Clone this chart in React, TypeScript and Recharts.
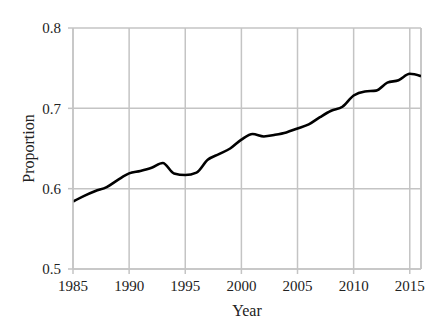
import React from 'react';
import { LineChart, Line, XAxis, YAxis, CartesianGrid, ReferenceLine } from 'recharts';

const years = [
  1985, 1986, 1987, 1988, 1989, 1990, 1991, 1992, 1993, 1994, 1995, 1996, 1997, 1998, 1999, 2000,
  2001, 2002, 2003, 2004, 2005, 2006, 2007, 2008, 2009, 2010, 2011, 2012, 2013, 2014, 2015, 2016,
];
const proportion = [
  0.584, 0.591, 0.597, 0.602, 0.611, 0.619, 0.622, 0.626, 0.632, 0.619, 0.617, 0.62, 0.636, 0.643, 0.65, 0.661,
  0.668, 0.665, 0.667, 0.67, 0.675, 0.68, 0.689, 0.697, 0.702, 0.716, 0.721, 0.722, 0.732, 0.735, 0.743, 0.74,
];
const xTicks = [1985, 1990, 1995, 2000, 2005, 2010, 2015];
const yTicks = [0.5, 0.6, 0.7, 0.8];

const data = years.map((year, i) => ({ year, value: proportion[i] }));

const gridColor = '#c4c4c4';
const font = '"Liberation Serif", "Times New Roman", serif';

const App: React.FC = () => {
  return (
    <div style={{ position: 'absolute', top: 0, left: 0, width: 441, height: 326, background: '#fff', fontFamily: font }}>
      <LineChart width={441} height={326} data={data} margin={{ top: 28, right: 20, left: 12, bottom: 27 }}>
        <CartesianGrid stroke={gridColor} strokeWidth={1.5} />
        <ReferenceLine x={2016} stroke={gridColor} strokeWidth={1.5} />
        <XAxis
          dataKey="year"
          type="number"
          domain={[1985, 2016]}
          ticks={xTicks}
          allowDataOverflow
          stroke={gridColor}
          strokeWidth={1.5}
          tickSize={5}
          tickMargin={6}
          height={30}
          tick={{ fill: '#222', fontSize: 15, fontFamily: font }}
          label={{ value: 'Year', position: 'insideBottom', offset: -17, fill: '#222', fontSize: 16, fontFamily: font }}
        />
        <YAxis
          type="number"
          domain={[0.5, 0.8]}
          ticks={yTicks}
          stroke={gridColor}
          strokeWidth={1.5}
          tickSize={5}
          tickMargin={7}
          width={61}
          tickFormatter={(v: number) => v.toFixed(1)}
          tick={{ fill: '#222', fontSize: 15, fontFamily: font }}
          label={{ value: 'Proportion', angle: -90, position: 'insideLeft', offset: 16, fill: '#222', fontSize: 16, fontFamily: font, style: { textAnchor: 'middle' } }}
        />
        <Line
          type="monotone"
          dataKey="value"
          stroke="#000"
          strokeWidth={2.6}
          dot={false}
          isAnimationActive={false}
        />
      </LineChart>
    </div>
  );
};

export default App;
